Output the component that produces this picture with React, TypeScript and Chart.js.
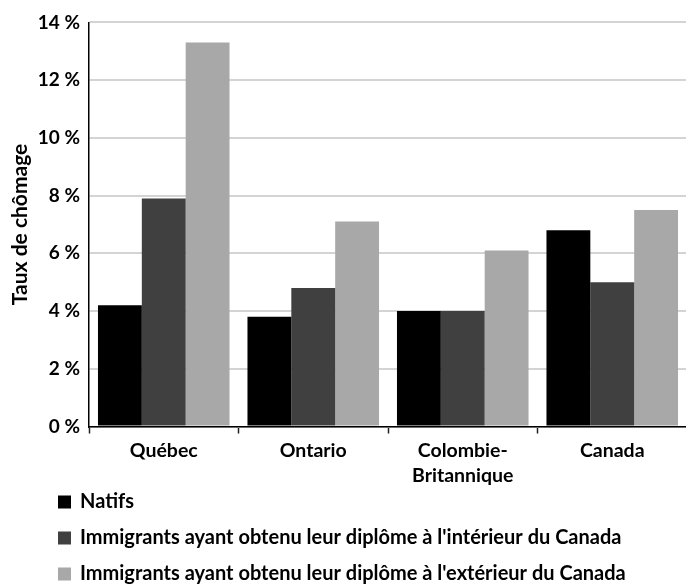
import React, { useEffect, useRef } from "react";
import { Chart, registerables } from "chart.js";

Chart.register(...registerables);

const categories: (string | string[])[] = ["Québec", "Ontario", ["Colombie-", "Britannique"], "Canada"];
const seriesLabels = [
  "Natifs",
  "Immigrants ayant obtenu leur diplôme à l'intérieur du Canada",
  "Immigrants ayant obtenu leur diplôme à l'extérieur du Canada",
];
const natifs = [4.2, 3.8, 4.0, 6.8];
const diplomeInterieur = [7.9, 4.8, 4.0, 5.0];
const diplomeExterieur = [13.3, 7.1, 6.1, 7.5];
const yMin = 0;
const yMax = 14;
const yStep = 2;
const yTitle = "Taux de chômage";

const FONT = "Lato, 'Open Sans', sans-serif";

const bottomLegend = {
  id: "bottomLegend",
  afterDraw(chart: any) {
    const ctx = chart.ctx;
    ctx.save();
    const y0 = chart.height - 84;
    chart.data.datasets.forEach((ds: any, i: number) => {
      const y = y0 + i * 36;
      ctx.fillStyle = ds.backgroundColor;
      ctx.fillRect(50, y - 6.5, 13, 13);
      ctx.fillStyle = "#000";
      ctx.font = `bold 20px ${FONT}`;
      ctx.textBaseline = "middle";
      ctx.textAlign = "left";
      ctx.fillText(ds.label, 72, y);
    });
    ctx.restore();
  },
};

export default function App() {
  const ref = useRef<HTMLCanvasElement>(null);
  useEffect(() => {
    let chart: Chart | null = null;
    let cancelled = false;
    const make = () => {
      if (cancelled || !ref.current) return;
      chart = new Chart(ref.current, {
        type: "bar",
        data: {
          labels: categories as any,
          datasets: [
            { label: seriesLabels[0], data: natifs, backgroundColor: "#000000" },
            { label: seriesLabels[1], data: diplomeInterieur, backgroundColor: "#404040" },
            { label: seriesLabels[2], data: diplomeExterieur, backgroundColor: "#a8a8a8" },
          ],
        },
        options: {
          animation: false,
          responsive: true,
          maintainAspectRatio: false,
          layout: { padding: { top: 9, right: 7, bottom: 93, left: 0 } },
          datasets: { bar: { categoryPercentage: 0.88, barPercentage: 1 } },
          plugins: {
            legend: { display: false },
            tooltip: { enabled: false },
          },
          scales: {
            x: {
              grid: {
                drawOnChartArea: false,
                drawTicks: true,
                tickLength: 7,
                tickColor: "#222",
                tickWidth: 1.5,
                offset: true,
              },
              border: { color: "#000", width: 1.5 },
              ticks: {
                color: "#000",
                padding: 4,
                maxRotation: 0,
                autoSkip: false,
                font: { family: FONT, size: 19.5, weight: "bold", lineHeight: 1.32 },
              },
            },
            y: {
              min: yMin,
              max: yMax,
              ticks: {
                stepSize: yStep,
                color: "#000",
                padding: 9,
                font: { family: FONT, size: 19, weight: "bold" },
                callback: (v: any) => `${v} %`,
              },
              grid: { color: "#d4d4d4", lineWidth: 2, drawTicks: false },
              border: { color: "#000", width: 1.5 },
              title: {
                display: true,
                text: yTitle,
                color: "#000",
                padding: { top: 0, bottom: 0 },
                font: { family: FONT, size: 21, weight: "bold" },
              },
              afterFit: (scale: any) => {
                scale.width = 81;
              },
            },
          },
        },
        plugins: [bottomLegend],
      });
    };
    const fontsReady = (document as any).fonts
      ? Promise.all([
          (document as any).fonts.load(`bold 18px Lato`),
        ]).catch(() => null)
      : Promise.resolve();
    fontsReady.then(make);
    return () => {
      cancelled = true;
      if (chart) chart.destroy();
    };
  }, []);
  return (
    <div style={{ width: 686, height: 584, marginTop: -6, position: "relative" }}>
      <canvas ref={ref} />
    </div>
  );
}
